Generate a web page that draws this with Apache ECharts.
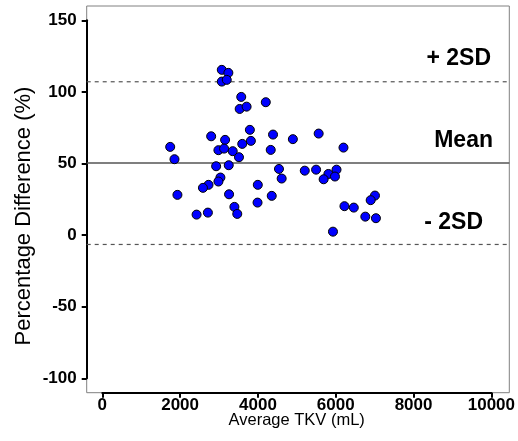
<!DOCTYPE html>
<html>
<head>
<meta charset="utf-8">
<script src="https://cdn.jsdelivr.net/npm/echarts@6/dist/echarts.min.js"></script>
<style>
html,body{margin:0;padding:0;background:#fff;}
#chart{width:518px;height:441px;}
</style>
</head>
<body>
<div id="chart"></div>
<script>
// Average TKV (mL)
var avgTKV = [3071,3240,3071,3199,3571,3531,3709,4202,2798,3793,3156,4388,4898,5561,1745,2985,3130,3352,3597,3819,4329,6199,1855,3513,2926,3250,4541,5204,5495,6020,5811,5980,5689,4610,3036,2985,2730,2587,3997,1931,3258,4355,3990,3395,6224,2423,2714,3469,5929,7008,6898,6464,6760,7033];
// Percentage difference (%)
var pctDiff = [115.4,113.3,107.2,108.4,96.5,88.1,89.7,92.8,69.0,73.5,66.5,70.2,67.0,70.9,61.6,59.3,60.4,58.6,63.7,65.8,59.5,61.1,53.0,54.4,48.1,48.8,46.2,45.0,45.7,45.7,42.7,40.9,39.0,39.5,40.2,37.4,35.1,33.0,35.1,28.1,28.5,27.4,22.7,19.7,20.2,14.3,15.7,14.8,2.4,27.6,24.4,19.2,12.9,11.8];
var meanDiff = 50.3;
var upperLimit = 107.1;
var lowerLimit = -6.5;
var xTicks = [0,2000,4000,6000,8000,10000];
var yTicks = [-100,-50,0,50,100,150];
var xFrame = [-400,10400];

var font = '"Liberation Sans", Arial, Helvetica, sans-serif';
var pts = avgTKV.map(function(x,i){return [x,pctDiff[i]];});
function hline(v){return xFrame.map(function(x){return [x,v];});}

var chart = echarts.init(document.getElementById('chart'), null, {renderer:'canvas'});
function visAxis(minV,maxV,step,off,margin){
  return {
    type:'value',gridIndex:1,min:minV,max:maxV,interval:step,offset:off,
    axisLine:{show:true,onZero:false,lineStyle:{color:'#000',width:2}},
    axisTick:{show:true,inside:false,length:5,lineStyle:{color:'#000',width:2}},
    splitLine:{show:false},
    axisLabel:{color:'#000',fontFamily:font,fontWeight:'bold',fontSize:17,margin:margin,
      formatter:function(v){return String(v);}}
  };
}
chart.setOption({
  animation:false,
  backgroundColor:'#fff',
  grid:[
    {left:86.7,right:8.7,top:6,bottom:48.3,show:true,borderColor:'#808080',borderWidth:1,backgroundColor:'transparent'},
    {left:102.3,right:24,top:20.3,bottom:62.7}
  ],
  xAxis:[
    {type:'value',gridIndex:0,min:xFrame[0],max:xFrame[1],show:false},
    visAxis(xTicks[0],xTicks[xTicks.length-1],2000,14.4,4)
  ],
  yAxis:[
    {type:'value',gridIndex:0,min:-110,max:160,show:false},
    visAxis(yTicks[0],yTicks[yTicks.length-1],50,15.6,10)
  ],
  graphic:[
    {type:'text',x:296.7,y:420,style:{text:'Average TKV (mL)',font:'16.5px '+font,fill:'#000',textAlign:'center',textVerticalAlign:'middle'}},
    {type:'text',x:24,y:216,rotation:Math.PI/2,style:{text:'Percentage Difference (%)',font:'22px '+font,fill:'#000',textAlign:'center',textVerticalAlign:'middle'}},
    {type:'text',x:491,y:59,style:{text:'+ 2SD',font:'bold 23px '+font,fill:'#000',textAlign:'right',textVerticalAlign:'middle'}},
    {type:'text',x:493,y:141,style:{text:'Mean',font:'bold 23px '+font,fill:'#000',textAlign:'right',textVerticalAlign:'middle'}},
    {type:'text',x:483,y:223,style:{text:'- 2SD',font:'bold 23px '+font,fill:'#000',textAlign:'right',textVerticalAlign:'middle'}}
  ],
  series:[
    {type:'line',xAxisIndex:0,yAxisIndex:0,data:hline(meanDiff),symbol:'none',lineStyle:{color:'#555',width:1.5},z:1},
    {type:'line',xAxisIndex:0,yAxisIndex:0,data:hline(upperLimit),symbol:'none',lineStyle:{color:'#555',width:1.2,type:[4,4]},z:1},
    {type:'line',xAxisIndex:0,yAxisIndex:0,data:hline(lowerLimit),symbol:'none',lineStyle:{color:'#555',width:1.2,type:[4,4]},z:1},
    {type:'scatter',xAxisIndex:1,yAxisIndex:1,data:pts,symbol:'circle',symbolSize:9,
     itemStyle:{color:'#0000ff',borderColor:'#000',borderWidth:1,opacity:1},z:5}
  ]
});
</script>
</body>
</html>
